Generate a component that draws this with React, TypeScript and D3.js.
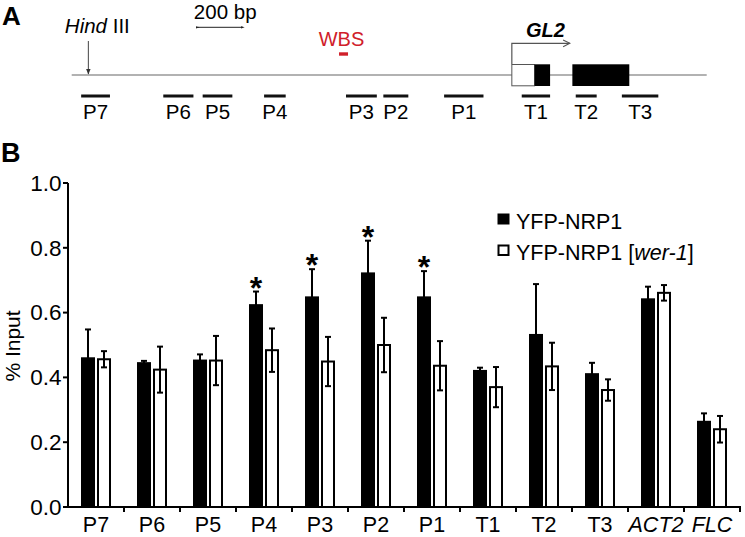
import React from "react";
import * as d3 from "d3";

// ---------- Panel B data ----------
const categories = ["P7", "P6", "P5", "P4", "P3", "P2", "P1", "T1", "T2", "T3", "ACT2", "FLC"];
const italicCats = ["ACT2", "FLC"];
const wtValues = [0.459, 0.444, 0.452, 0.623, 0.647, 0.721, 0.647, 0.42, 0.531, 0.41, 0.641, 0.263];
const wtErrors = [0.089, 0.007, 0.019, 0.042, 0.087, 0.101, 0.081, 0.01, 0.157, 0.035, 0.039, 0.026];
const werValues = [0.456, 0.424, 0.452, 0.484, 0.449, 0.5, 0.436, 0.37, 0.434, 0.361, 0.661, 0.24];
const werErrors = [0.025, 0.071, 0.076, 0.067, 0.076, 0.084, 0.076, 0.062, 0.073, 0.033, 0.024, 0.041];
const significant = [false, false, false, true, true, true, true, false, false, false, false, false];
const yTicks = [0, 0.2, 0.4, 0.6, 0.8, 1.0];

// ---------- Panel A data (bp, relative to HindIII site) ----------
const locusStart = -74;
const locusEnd = 2748;
const hindIIIPos = 0;
const primerNames = ["P7", "P6", "P5", "P4", "P3", "P2", "P1", "T1", "T2", "T3"];
const primerStarts = [-32, 333, 508, 781, 1145, 1311, 1581, 1926, 2166, 2371];
const primerEnds = [96, 467, 640, 877, 1282, 1422, 1756, 2052, 2259, 2533];
const wbsRange = [1114, 1154];
const tssPos = 1882;
const utrEnd = 1983;
const exon1End = 2052;
const exon2Range = [2151, 2404];
const scaleBarRange = [486, 686];

const FONT = "'Liberation Sans', Arial, Helvetica, sans-serif";

export default function App() {
  // Panel A scale
  const xg = d3.scaleLinear().domain([locusStart, locusEnd]).range([71.7, 706.7]);
  const lineY = 75;
  const primerY = 96;

  // Panel B scales
  const x = d3.scaleBand<string>().domain(categories).range([68, 740]).padding(0);
  const y = d3.scaleLinear().domain([0, 1]).range([507, 183]);
  const y0 = y(0);
  const bw = 12;

  const red = "#d0202a";

  return (
    <div style={{ position: "absolute", left: 0, top: 0 }}>
      <svg width={745} height={537} style={{ display: "block", fontFamily: FONT }}>
        <defs>
          <marker id="arrOpen" viewBox="0 0 10 10" refX="9" refY="5" markerWidth="7" markerHeight="7" orient="auto">
            <path d="M1,1 L9,5 L1,9" fill="none" stroke="#555" strokeWidth="1.3" />
          </marker>
          <marker id="arrSolid" viewBox="0 0 10 10" refX="9" refY="5" markerWidth="6" markerHeight="6" orient="auto">
            <path d="M0,1 L10,5 L0,9 Z" fill="#333" />
          </marker>
          <marker id="dot" viewBox="0 0 10 10" refX="5" refY="5" markerWidth="4" markerHeight="4" orient="auto">
            <path d="M0,2 L10,5 L0,8 Z" fill="#222" />
          </marker>
        </defs>

        {/* ---------------- Panel A ---------------- */}
        <text x={2} y={25} fontSize={26} fontWeight="bold">A</text>

        <line x1={xg(locusStart)} x2={xg(locusEnd)} y1={lineY} y2={lineY} stroke="#666" strokeWidth={1.2} />

        {/* HindIII */}
        <text x={xg(hindIIIPos) + 9} y={33.3} fontSize={20.5} textAnchor="middle">
          <tspan fontStyle="italic">Hind</tspan> III
        </text>
        <line x1={xg(hindIIIPos)} x2={xg(hindIIIPos)} y1={41} y2={lineY - 1} stroke="#444" strokeWidth={1} markerEnd="url(#arrSolid)" />

        {/* scale bar */}
        <text x={(xg(scaleBarRange[0]) + xg(scaleBarRange[1])) / 2 + 5} y={18.5} fontSize={20.5} textAnchor="middle">200 bp</text>
        <line x1={xg(scaleBarRange[0])} x2={xg(scaleBarRange[1])} y1={27.3} y2={27.3} stroke="#222" strokeWidth={1}
          markerStart="url(#dot)" markerEnd="url(#dot)" />

        {/* WBS */}
        <text x={(xg(wbsRange[0]) + xg(wbsRange[1])) / 2 - 2} y={45.7} fontSize={20} fill={red} textAnchor="middle">WBS</text>
        <rect x={xg(wbsRange[0])} y={52.3} width={xg(wbsRange[1]) - xg(wbsRange[0])} height={3.4} fill={red} />

        {/* Gene */}
        <path d={`M${xg(tssPos)},64.3 V43.3 H${xg(tssPos) + 58}`} fill="none" stroke="#555" strokeWidth={1.2} markerEnd="url(#arrOpen)" />
        <text x={545.5} y={36.5} fontSize={20} fontWeight="bold" fontStyle="italic" textAnchor="middle">GL2</text>
        <rect x={xg(tssPos)} y={64.5} width={xg(utrEnd) - xg(tssPos)} height={21.3} fill="#fff" stroke="#555" strokeWidth={1} />
        <rect x={xg(utrEnd)} y={64.3} width={xg(exon1End) - xg(utrEnd)} height={21.7} fill="#000" />
        <rect x={xg(exon2Range[0])} y={64.3} width={xg(exon2Range[1]) - xg(exon2Range[0])} height={21.7} fill="#000" />

        {/* primers */}
        {primerNames.map((n, i) => {
          const s = xg(primerStarts[i]);
          const e = xg(primerEnds[i]);
          return (
            <g key={n}>
              <rect x={s} y={primerY - 1.5} width={e - s} height={3} fill="#111" />
              <text x={(s + e) / 2} y={118.5} fontSize={20.5} textAnchor="middle">{n}</text>
            </g>
          );
        })}

        {/* ---------------- Panel B ---------------- */}
        <text x={1} y={162} fontSize={27} fontWeight="bold">B</text>

        {/* y-axis */}
        <line x1={68} x2={68} y1={y(1)} y2={y0 + 1} stroke="#000" strokeWidth={2} />
        {yTicks.map((t) => (
          <g key={t}>
            <line x1={63} x2={68} y1={y(t)} y2={y(t)} stroke="#000" strokeWidth={2} />
            <text x={61.5} y={y(t) + 7.8} fontSize={22.5} textAnchor="end">{t.toFixed(1)}</text>
          </g>
        ))}
        <text transform={`translate(20,${(y(0) + y(1)) / 2 + 1}) rotate(-90)`} fontSize={21} textAnchor="middle">% Input</text>

        {/* bars */}
        {categories.map((c, i) => {
          const cx = (x(c) as number) + x.bandwidth() / 2;
          const bx = cx - 14;
          const wx = cx + 2;
          const bTop = y(wtValues[i]);
          const wTop = y(werValues[i]);
          const bErrTop = y(wtValues[i] + wtErrors[i]);
          const wErrTop = y(werValues[i] + werErrors[i]);
          const wErrBot = y(werValues[i] - werErrors[i]);
          const bc = bx + bw / 2;
          const wc = wx + bw / 2;
          return (
            <g key={c}>
              <rect x={bx} y={bTop} width={bw} height={y0 - bTop} fill="#000" stroke="#000" strokeWidth={2} />
              <line x1={bc} x2={bc} y1={bTop} y2={bErrTop} stroke="#000" strokeWidth={2} />
              <line x1={bc - 3} x2={bc + 3} y1={bErrTop} y2={bErrTop} stroke="#000" strokeWidth={2} />

              <rect x={wx} y={wTop} width={bw} height={y0 - wTop} fill="#fff" stroke="#000" strokeWidth={2} />
              <line x1={wc} x2={wc} y1={wErrBot} y2={wErrTop} stroke="#000" strokeWidth={2} />
              <line x1={wc - 3} x2={wc + 3} y1={wErrTop} y2={wErrTop} stroke="#000" strokeWidth={2} />
              <line x1={wc - 3} x2={wc + 3} y1={wErrBot} y2={wErrBot} stroke="#000" strokeWidth={2} />

              {significant[i] && (
                <text x={bc} y={bErrTop + 7} fontSize={32} fontWeight="bold" textAnchor="middle">*</text>
              )}
            </g>
          );
        })}

        {/* x-axis */}
        <line x1={67} x2={741} y1={y0} y2={y0} stroke="#000" strokeWidth={2} />
        {categories.map((c, i) => {
          const bx0 = (x(c) as number) + x.bandwidth();
          return <line key={"t" + i} x1={bx0} x2={bx0} y1={y0} y2={y0 + 5} stroke="#000" strokeWidth={2} />;
        })}
        {categories.map((c) => (
          <text key={"l" + c} x={(x(c) as number) + x.bandwidth() / 2} y={532} fontSize={21.5}
            textAnchor="middle" fontStyle={italicCats.includes(c) ? "italic" : "normal"}>{c}</text>
        ))}

        {/* legend */}
        <rect x={497.5} y={213.5} width={12} height={11} fill="#000" />
        <text x={516} y={228.5} fontSize={21.5}>YFP-NRP1</text>
        <rect x={498.5} y={245.5} width={10} height={9.5} fill="#fff" stroke="#000" strokeWidth={2} />
        <text x={516} y={260} fontSize={21.5}>YFP-NRP1 [<tspan fontStyle="italic">wer-1</tspan>]</text>
      </svg>
    </div>
  );
}
